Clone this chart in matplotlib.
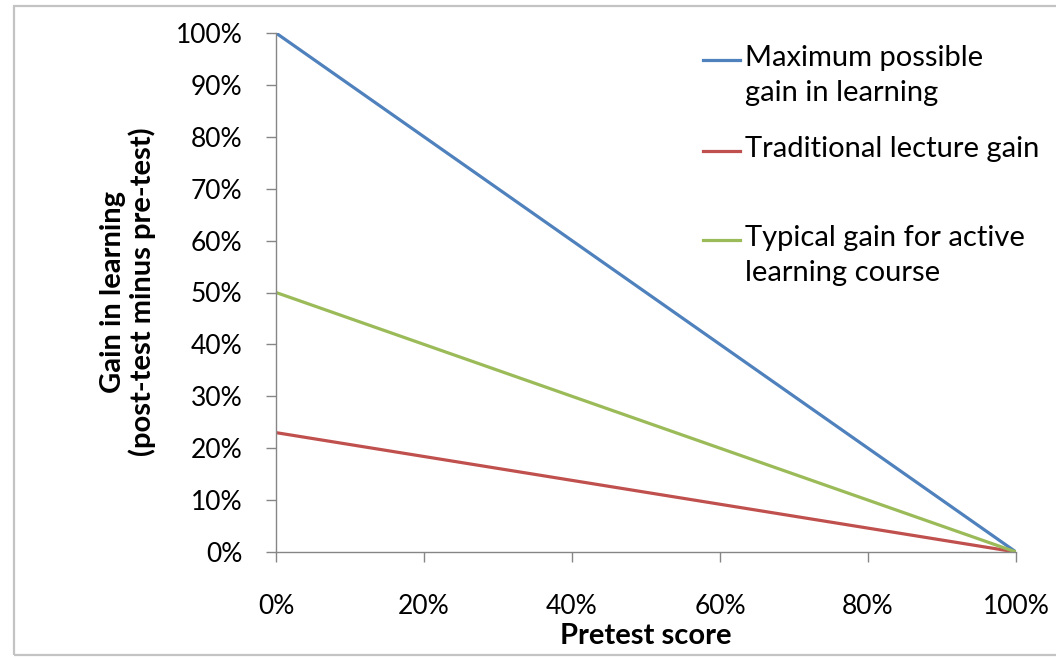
import matplotlib.pyplot as plt
from matplotlib.patches import Rectangle
from matplotlib.lines import Line2D
from matplotlib.ticker import PercentFormatter

# data
pretest = [0.0, 1.0]
max_gain = [1.00, 0.0]
lecture_gain = [0.23, 0.0]
active_gain = [0.50, 0.0]

series_labels = ["Maximum possible\ngain in learning",
                 "Traditional lecture gain",
                 "Typical gain for active\nlearning course"]
series_colors = ["#4F81BD", "#C0504D", "#9BBB59"]

plt.rcParams['font.family'] = ['Lato', 'DejaVu Sans']
FS = 19
FS_TXT = 21
GRAY = "#868686"

fig = plt.figure(figsize=(10.56, 6.59), dpi=100)
ax = fig.add_axes([276/1056, 1 - 552/659, 740/1056, 519/659])

# outer chart border like Excel
fig.patches.append(Rectangle((14/1056, 4/659), 1.1, 649/659, transform=fig.transFigure,
                             fill=False, edgecolor="#c3c3c3", linewidth=1.6))

ax.plot(pretest, max_gain, color=series_colors[0], lw=2.3, solid_capstyle='butt')
ax.plot(pretest, lecture_gain, color=series_colors[1], lw=2.3, solid_capstyle='butt')
ax.plot(pretest, active_gain, color=series_colors[2], lw=2.3, solid_capstyle='butt')

ax.set_xlim(0, 1)
ax.set_ylim(0, 1)
ax.set_xticks([0, 0.2, 0.4, 0.6, 0.8, 1.0])
ax.set_yticks([i / 10 for i in range(11)])
ax.xaxis.set_major_formatter(PercentFormatter(1.0, decimals=0))
ax.yaxis.set_major_formatter(PercentFormatter(1.0, decimals=0))

for s in ['top', 'right']:
    ax.spines[s].set_visible(False)
for s in ['left', 'bottom']:
    ax.spines[s].set_color(GRAY)
    ax.spines[s].set_linewidth(1.0)

ax.tick_params(axis='y', direction='out', length=7, width=1, color=GRAY,
               labelsize=FS, pad=17, labelcolor='black')
ax.tick_params(axis='x', direction='out', length=7, width=1, color=GRAY,
               labelsize=FS, pad=23, labelcolor='black')
for lab in ax.get_xticklabels() + ax.get_yticklabels():
    lab.set_clip_on(False)

fig.text(128/1056, 1 - 292/659, "Gain in learning\n(post-test minus pre-test)",
         rotation=90, ha='center', va='center', multialignment='center',
         fontsize=FS_TXT, fontweight='bold', linespacing=1.15)
fig.text(646/1056, 1 - 636/659, "Pretest score",
         ha='center', va='center', fontsize=FS_TXT, fontweight='bold')

# legend drawn Excel-style: line marker beside first text line
legend_tops = [60, 151, 240]
for lab, col, yp in zip(series_labels, series_colors, legend_tops):
    y = 1 - yp / 659
    fig.add_artist(Line2D([703/1056, 740/1056], [y, y], transform=fig.transFigure,
                          color=col, lw=2.3))
    fig.text(745/1056, y + 15/659, lab, ha='left', va='top', fontsize=FS_TXT,
             linespacing=1.45)

fig.savefig("out.png", dpi=100)
